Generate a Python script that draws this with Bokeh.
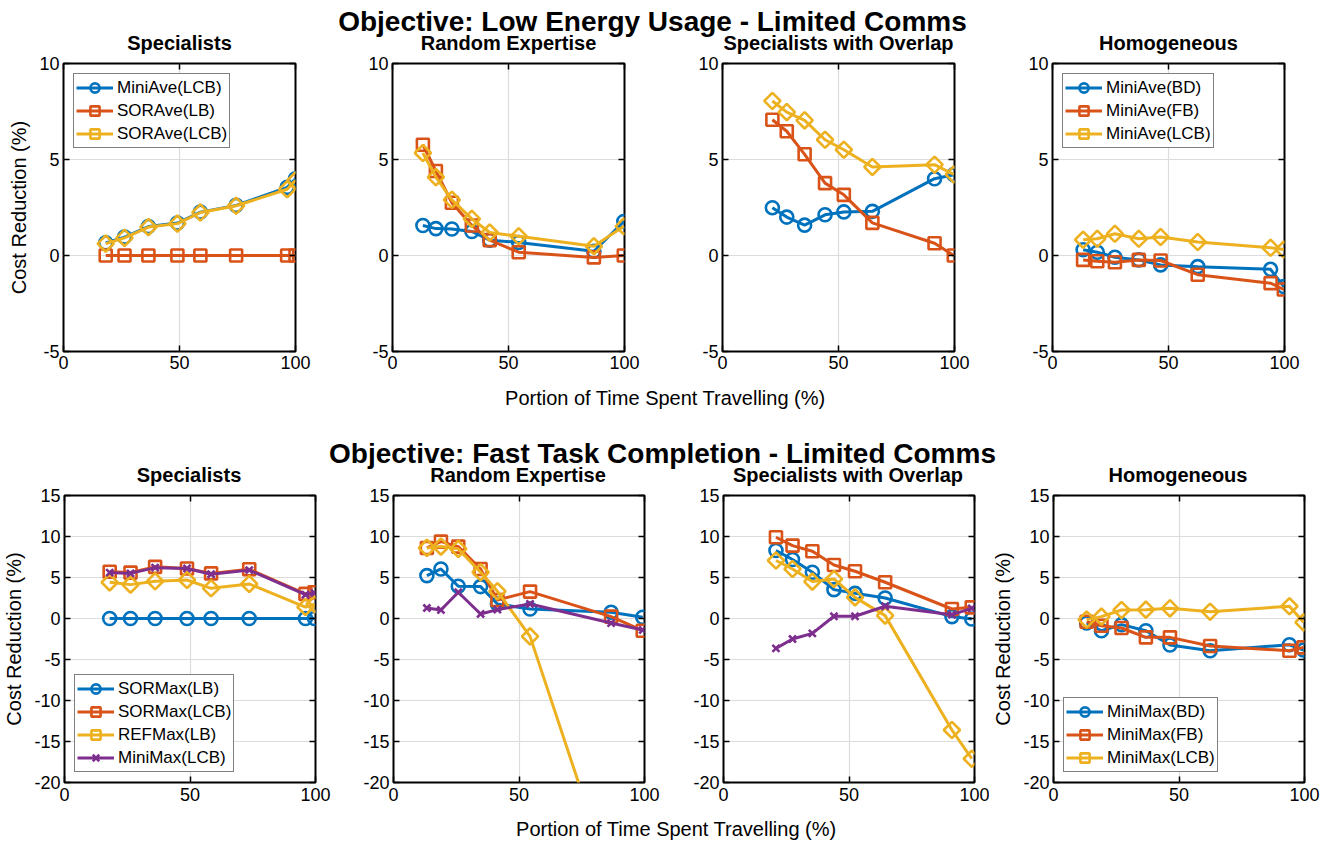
import numpy as np
from bokeh.plotting import figure
from bokeh.layouts import column, row
from bokeh.models import Range1d, LinearAxis, Legend, LegendItem, FixedTicker
from bokeh.embed import file_html
from bokeh.resources import INLINE
from bokeh.core.properties import value

FONT = "Liberation Sans"
COLORS = ["#0072BD", "#D95319", "#EDB120", "#7E2F8E"]

# ---------------- data ----------------
sup_energy = "Objective: Low Energy Usage - Limited Comms"
sup_time = "Objective: Fast Task Completion - Limited Comms"
x_label = "Portion of Time Spent Travelling (%)"
y_label = "Cost Reduction (%)"
panel_titles = ["Specialists", "Random Expertise", "Specialists with Overlap", "Homogeneous"]
x_ticks = [0, 50, 100]
y_ticks_energy = [-5, 0, 5, 10]
y_ticks_time = [-20, -15, -10, -5, 0, 5, 10, 15]

# Energy row
e_spec_x = [18.2, 26.3, 36.6, 49.1, 59.0, 74.4, 96.4, 100.0]
e_spec_miniave_lcb = [0.66, 0.96, 1.51, 1.69, 2.26, 2.61, 3.55, 4.00]
e_spec_sorave_lb = [0, 0, 0, 0, 0, 0, 0, 0]
e_spec_sorave_lcb = [0.62, 0.92, 1.48, 1.66, 2.24, 2.59, 3.45, 3.92]
e_spec_names = ["MiniAve(LCB)", "SORAve(LB)", "SORAve(LCB)"]

e_rand_x = [13.1, 18.7, 25.6, 34.2, 41.9, 54.4, 86.8, 99.7]
e_rand_miniave_lcb = [1.56, 1.40, 1.38, 1.25, 0.80, 0.68, 0.22, 1.77]
e_rand_sorave_lb = [5.77, 4.40, 2.75, 1.56, 0.80, 0.17, -0.10, 0.00]
e_rand_sorave_lcb = [5.34, 4.08, 2.90, 1.91, 1.20, 1.00, 0.48, 1.52]

e_over_x = [21.5, 27.7, 35.4, 44.2, 52.3, 64.6, 91.4, 99.7]
e_over_miniave_lcb = [2.49, 2.00, 1.58, 2.12, 2.27, 2.30, 4.00, 4.21]
e_over_sorave_lb = [7.07, 6.47, 5.27, 3.77, 3.16, 1.70, 0.64, 0.00]
e_over_sorave_lcb = [8.05, 7.47, 7.04, 6.03, 5.51, 4.61, 4.73, 4.22]

e_homo_x = [13.2, 19.3, 26.9, 37.2, 46.6, 62.6, 94.0, 99.7]
e_homo_miniave_bd = [0.30, 0.17, -0.09, -0.23, -0.49, -0.58, -0.72, -1.62]
e_homo_miniave_fb = [-0.23, -0.30, -0.35, -0.23, -0.26, -1.00, -1.44, -1.77]
e_homo_miniave_lcb = [0.82, 0.87, 1.13, 0.87, 0.96, 0.70, 0.40, 0.31]
e_homo_names = ["MiniAve(BD)", "MiniAve(FB)", "MiniAve(LCB)"]

# Time row
t_spec_x = [18.0, 26.3, 36.1, 48.8, 58.4, 73.6, 96.0, 99.6]
t_spec_sormax_lb = [0, 0, 0, 0, 0, 0, 0, 0]
t_spec_sormax_lcb = [5.70, 5.60, 6.30, 6.10, 5.50, 6.00, 3.00, 3.20]
t_spec_refmax_lb = [4.41, 4.13, 4.54, 4.70, 3.68, 4.21, 1.40, 1.75]
t_spec_minimax_lcb = [5.60, 5.50, 6.20, 6.10, 5.40, 5.90, 2.90, 3.10]
t_spec_names = ["SORMax(LB)", "SORMax(LCB)", "REFMax(LB)", "MiniMax(LCB)"]

t_rand_x = [13.3, 18.9, 25.8, 34.7, 41.4, 54.4, 86.7, 99.3]
t_rand_sormax_lb = [5.23, 6.04, 3.93, 3.89, 1.77, 1.16, 0.76, 0.15]
t_rand_sormax_lcb = [8.60, 9.38, 8.77, 6.04, 2.26, 3.28, 0.23, -1.49]
t_rand_refmax_lb = [8.61, 8.77, 8.49, 5.64, 3.32, -2.18, -32.0, -35.0]
t_rand_minimax_lcb = [1.28, 1.04, 3.20, 0.55, 1.08, 1.77, -0.55, -1.40]

t_over_x = [20.9, 27.5, 35.4, 44.0, 52.4, 64.4, 91.0, 98.9]
t_over_sormax_lb = [8.29, 7.19, 5.64, 3.52, 3.07, 2.50, 0.23, -0.06]
t_over_sormax_lcb = [9.91, 8.89, 8.20, 6.53, 5.76, 4.42, 1.16, 1.36]
t_over_refmax_lb = [7.07, 6.04, 4.50, 4.82, 2.58, 0.35, -13.6, -17.1]
t_over_minimax_lcb = [-3.64, -2.50, -1.81, 0.27, 0.27, 1.49, 0.47, 1.24]

t_homo_x = [13.2, 19.1, 27.1, 36.8, 46.4, 62.4, 94.0, 99.6]
t_homo_minimax_bd = [-0.55, -1.49, -0.75, -1.49, -3.24, -3.93, -3.20, -3.85]
t_homo_minimax_fb = [-0.39, -0.88, -1.16, -2.30, -2.30, -3.36, -3.93, -3.52]
t_homo_minimax_lcb = [-0.14, 0.23, 1.04, 1.08, 1.24, 0.83, 1.49, -0.47]
t_homo_names = ["MiniMax(BD)", "MiniMax(FB)", "MiniMax(LCB)"]

# ---------------- layout constants (page pixels) ----------------
W = 1329
FRAME_X = [63, 392, 722, 1052]
TOP_FW, TOP_FH = 232, 288
BOT_FW, BOT_FH = 251, 287
TOP_STARTS = [0, 337, 667, 997, W]
BOT_STARTS = [0, 337, 667, 988, W]
BT = 9
HA = 54           # 0 .. 54, top frames at 63
TOP_BB = 28       # top row ends at 379
HM = 107          # 379 .. 486, bottom frames at 495
BOT_BB = 28       # bottom row ends at 810
HB = 32           # 810 .. 842

MARKERS = [("circle", 13, 0.0), ("square", 12, 0.0), ("square", 11.5, np.pi / 4), ("x", 10, 0.0)]


def style_axis(ax, ticks, labels=True):
    ax.ticker = FixedTicker(ticks=ticks)
    ax.major_tick_in = 6
    ax.major_tick_out = 0
    ax.minor_tick_line_color = None
    ax.major_tick_line_color = "black"
    ax.major_tick_line_width = 1.5
    ax.axis_line_color = None
    ax.major_label_text_font = FONT
    if labels:
        ax.major_label_overrides = {t: "%d" % t for t in ticks}
        ax.major_label_text_color = "black"
        ax.major_label_text_font_size = "18px"
        ax.major_label_standoff = 4
    else:
        ax.major_label_text_color = None
        ax.major_label_text_font_size = "0px"
        ax.major_label_standoff = 0


def panel(xs, series, names, yr, yticks, fw, fh, bl, br, bb, ylabel=None,
          legend_loc=None, xstand=4):
    p = figure(frame_width=fw, frame_height=fh, x_range=Range1d(0, 100),
               y_range=Range1d(*yr), output_backend="svg", toolbar_location=None,
               title=None, min_border_left=bl, min_border_right=br,
               min_border_top=BT, min_border_bottom=bb)
    p.outline_line_color = "black"
    p.outline_line_width = 2
    p.outline_line_alpha = 1
    style_axis(p.xaxis[0], x_ticks)
    style_axis(p.yaxis[0], yticks)
    p.xaxis[0].major_label_standoff = xstand
    p.xgrid.grid_line_color = "#dcdcdc"
    p.ygrid.grid_line_color = "#dcdcdc"
    p.xgrid.grid_line_width = 1.2
    p.ygrid.grid_line_width = 1.2
    if ylabel:
        p.yaxis[0].axis_label = ylabel
        p.yaxis[0].axis_label_text_font = FONT
        p.yaxis[0].axis_label_text_font_size = "20px"
        p.yaxis[0].axis_label_text_font_style = "normal"
        p.yaxis[0].axis_label_text_color = "black"
        p.yaxis[0].axis_label_standoff = 6
    top = LinearAxis()
    style_axis(top, x_ticks, False)
    p.add_layout(top, "above")
    right = LinearAxis()
    style_axis(right, yticks, False)
    p.add_layout(right, "right")

    items = []
    for i, ys in enumerate(series):
        c = COLORS[i]
        mk, sz, ang = MARKERS[i]
        l = p.line(xs, ys, line_color=c, line_width=3)
        s = p.scatter(xs, ys, marker=mk, size=sz, angle=ang, fill_color=None,
                      line_color=c, line_width=2.6)
        if names:
            items.append(LegendItem(label=names[i], renderers=[l, s]))
    if names:
        leg = Legend(items=items, location=legend_loc)
        leg.label_text_font = FONT
        leg.label_text_font_size = "17px"
        leg.label_text_color = "black"
        leg.border_line_color = "black"
        leg.border_line_width = 1.2
        leg.background_fill_alpha = 1
        leg.padding = 2
        leg.spacing = 0
        leg.glyph_width = 37
        leg.glyph_height = 23
        leg.label_height = 23
        leg.label_standoff = 4
        leg.margin = 10
        p.add_layout(leg)
    return p


def text_fig(h, texts):
    p = figure(width=W, height=h, x_range=Range1d(0, W), y_range=Range1d(0, h),
               output_backend="svg", toolbar_location=None, title=None,
               min_border=0, x_axis_location=None, y_axis_location=None)
    p.outline_line_color = None
    p.grid.visible = False
    for (x, ytop, txt, size, bold) in texts:
        p.text(x=[x], y=[h - ytop], text=[txt], text_font=value(FONT),
               text_font_size=size, text_font_style="bold" if bold else "normal",
               text_align="center", text_baseline="middle", text_color="black")
    return p


# ---------------- build ----------------
top_series = [
    (e_spec_x, [e_spec_miniave_lcb, e_spec_sorave_lb, e_spec_sorave_lcb], e_spec_names, "top_left"),
    (e_rand_x, [e_rand_miniave_lcb, e_rand_sorave_lb, e_rand_sorave_lcb], None, None),
    (e_over_x, [e_over_miniave_lcb, e_over_sorave_lb, e_over_sorave_lcb], None, None),
    (e_homo_x, [e_homo_miniave_bd, e_homo_miniave_fb, e_homo_miniave_lcb], e_homo_names, "top_left"),
]
bot_series = [
    (t_spec_x, [t_spec_sormax_lb, t_spec_sormax_lcb, t_spec_refmax_lb, t_spec_minimax_lcb], t_spec_names, "bottom_left"),
    (t_rand_x, [t_rand_sormax_lb, t_rand_sormax_lcb, t_rand_refmax_lb, t_rand_minimax_lcb], None, None),
    (t_over_x, [t_over_sormax_lb, t_over_sormax_lcb, t_over_refmax_lb, t_over_minimax_lcb], None, None),
    (t_homo_x, [t_homo_minimax_bd, t_homo_minimax_fb, t_homo_minimax_lcb], t_homo_names, "bottom_left"),
]

top_figs = []
for i, (xs, ser, names, loc) in enumerate(top_series):
    bl = FRAME_X[i] - TOP_STARTS[i]
    br = TOP_STARTS[i + 1] - FRAME_X[i] - TOP_FW
    top_figs.append(panel(xs, ser, names, (-5, 10), y_ticks_energy, TOP_FW, TOP_FH,
                          bl, br, TOP_BB, ylabel=y_label if i == 0 else None,
                          legend_loc=loc, xstand=4))

bot_figs = []
for i, (xs, ser, names, loc) in enumerate(bot_series):
    bl = FRAME_X[i] - BOT_STARTS[i]
    br = BOT_STARTS[i + 1] - FRAME_X[i] - BOT_FW
    bot_figs.append(panel(xs, ser, names, (-20, 15), y_ticks_time, BOT_FW, BOT_FH,
                          bl, br, BOT_BB, ylabel=y_label if i in (0, 3) else None,
                          legend_loc=loc, xstand=5))

fig_a = text_fig(HA, [(652, 21, sup_energy, "28px", True)] +
                 [(FRAME_X[i] + TOP_FW / 2, 42.5, panel_titles[i], "20px", True) for i in range(4)])
fig_m = text_fig(HM, [(665, 18, x_label, "20px", False), (662, 74, sup_time, "28px", True)] +
                 [(FRAME_X[i] + BOT_FW / 2, 95.5, panel_titles[i], "20px", True) for i in range(4)])
fig_b = text_fig(HB, [(676, 18, x_label, "20px", False)])

layout = column(fig_a, row(*top_figs), fig_m, row(*bot_figs), fig_b)

open("out.html", "w").write(file_html(layout, INLINE))
